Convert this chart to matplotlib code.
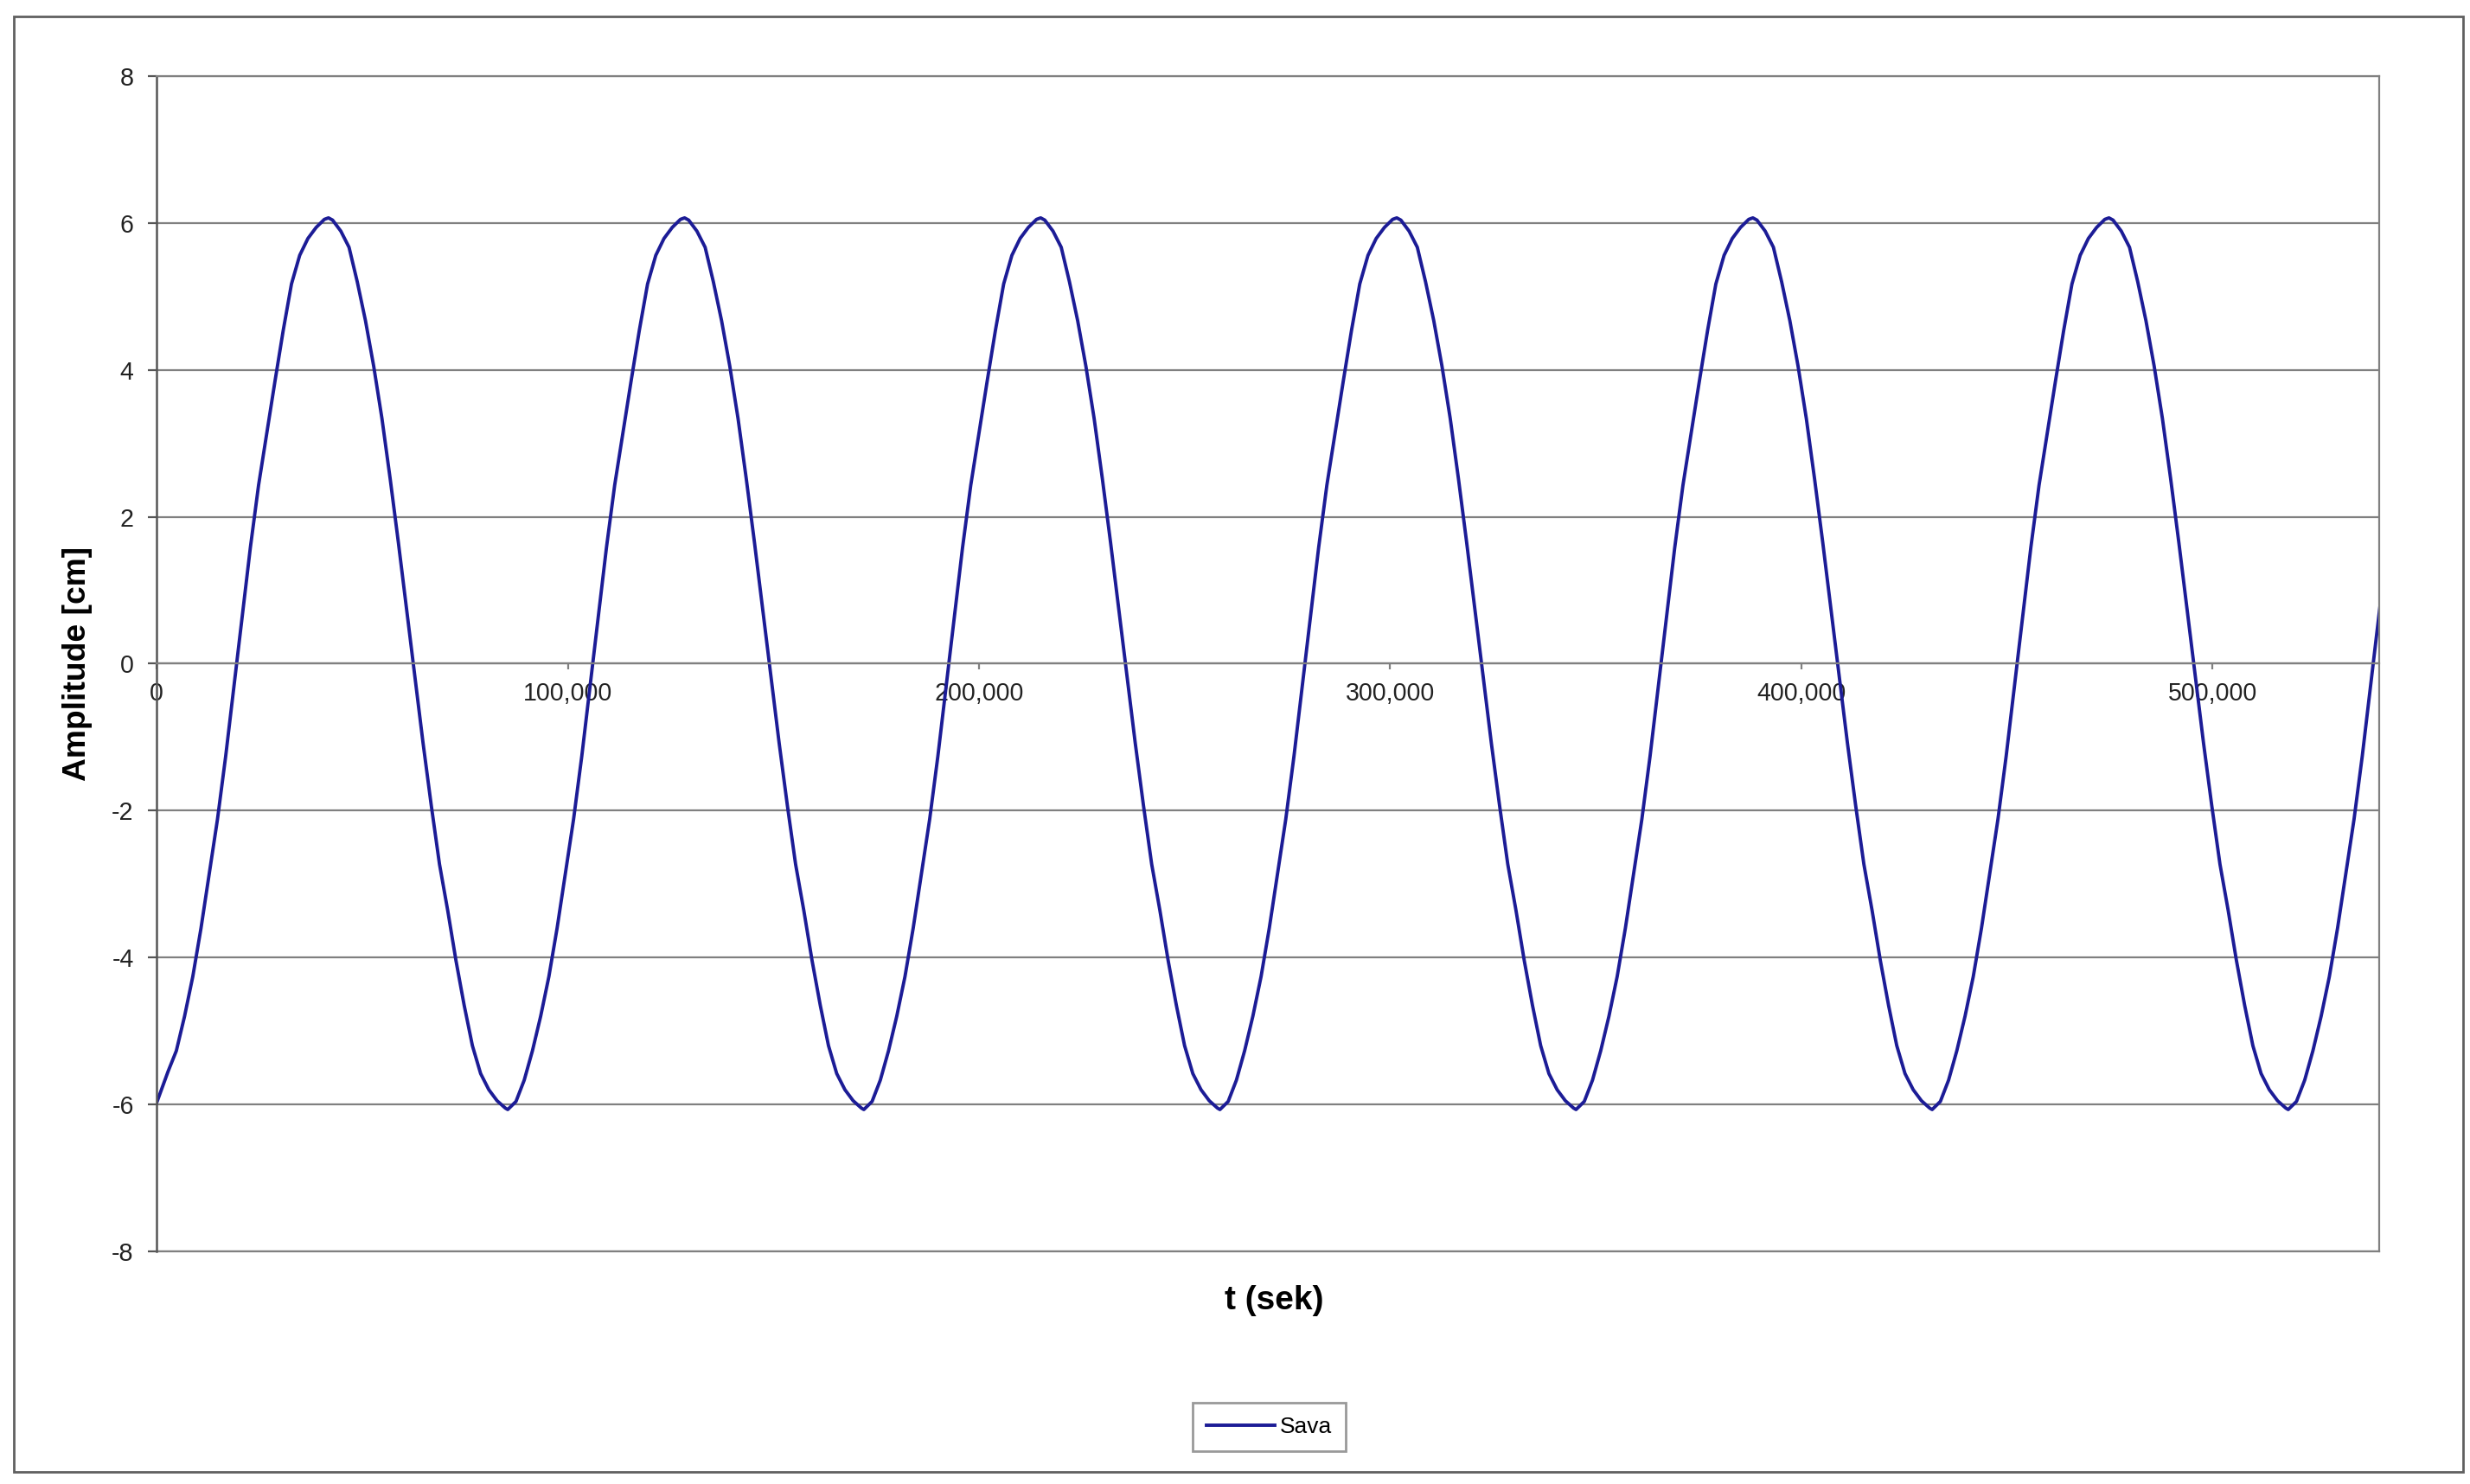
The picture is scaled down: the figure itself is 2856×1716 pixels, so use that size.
import matplotlib.pyplot as plt
from matplotlib.patches import Rectangle
from matplotlib.ticker import FuncFormatter

plt.rcParams["font.family"] = ["Liberation Sans", "DejaVu Sans"]
plt.rcParams["axes.unicode_minus"] = False

# Time samples (s), one row per oscillation
t_sec = [
    0, 2800, 4800, 6800, 8800, 10800, 12800, 14800, 16800, 18800, 20800,
    22800, 24800, 26800, 28800, 30800, 32800, 34800, 36800, 38800, 40800,
    41800, 42800, 44800, 46800, 48800, 50800, 52800, 54800, 56800, 58800,
    60800, 62800, 64800, 66800, 68800, 70800, 72800, 74800, 76800, 78800,
    80800, 82800, 84800,
    85400, 87400, 89400, 91400, 93400, 95400, 97400, 99400, 101400, 103400,
    105400, 107400, 109400, 111400, 113400, 115400, 117400, 119400, 121400,
    123400, 125400, 127400, 128400, 129400, 131400, 133400, 135400, 137400,
    139400, 141400, 143400, 145400, 147400, 149400, 151400, 153400, 155400,
    157400, 159400, 161400, 163400, 165400, 167400, 169400, 171400,
    172000, 174000, 176000, 178000, 180000, 182000, 184000, 186000, 188000,
    190000, 192000, 194000, 196000, 198000, 200000, 202000, 204000, 206000,
    208000, 210000, 212000, 214000, 215000, 216000, 218000, 220000, 222000,
    224000, 226000, 228000, 230000, 232000, 234000, 236000, 238000, 240000,
    242000, 244000, 246000, 248000, 250000, 252000, 254000, 256000, 258000,
    258600, 260600, 262600, 264600, 266600, 268600, 270600, 272600, 274600,
    276600, 278600, 280600, 282600, 284600, 286600, 288600, 290600, 292600,
    294600, 296600, 298600, 300600, 301600, 302600, 304600, 306600, 308600,
    310600, 312600, 314600, 316600, 318600, 320600, 322600, 324600, 326600,
    328600, 330600, 332600, 334600, 336600, 338600, 340600, 342600, 344600,
    345200, 347200, 349200, 351200, 353200, 355200, 357200, 359200, 361200,
    363200, 365200, 367200, 369200, 371200, 373200, 375200, 377200, 379200,
    381200, 383200, 385200, 387200, 388200, 389200, 391200, 393200, 395200,
    397200, 399200, 401200, 403200, 405200, 407200, 409200, 411200, 413200,
    415200, 417200, 419200, 421200, 423200, 425200, 427200, 429200, 431200,
    431800, 433800, 435800, 437800, 439800, 441800, 443800, 445800, 447800,
    449800, 451800, 453800, 455800, 457800, 459800, 461800, 463800, 465800,
    467800, 469800, 471800, 473800, 474800, 475800, 477800, 479800, 481800,
    483800, 485800, 487800, 489800, 491800, 493800, 495800, 497800, 499800,
    501800, 503800, 505800, 507800, 509800, 511800, 513800, 515800, 517800,
    518400, 520400, 522400, 524400, 526400, 528400, 530400, 532400, 534400,
    536400, 538400, 540400, 542400,
]

# Amplitude (cm) at those times
amp_cm = [
    -5.98, -5.55, -5.27, -4.80, -4.26, -3.60, -2.86, -2.12, -1.26, -0.31,
    0.65, 1.58, 2.43, 3.14, 3.85, 4.54, 5.17, 5.56, 5.79, 5.94, 6.05, 6.07,
    6.04, 5.89, 5.67, 5.20, 4.67, 4.05, 3.34, 2.52, 1.65, 0.74, -0.18, -1.08,
    -1.93, -2.73, -3.36, -4.04, -4.65, -5.20, -5.58, -5.80, -5.95, -6.05,
    -6.07, -5.96, -5.67, -5.27, -4.80, -4.26, -3.60, -2.86, -2.12, -1.26,
    -0.31, 0.65, 1.58, 2.43, 3.14, 3.85, 4.54, 5.17, 5.56, 5.79, 5.94, 6.05,
    6.07, 6.04, 5.89, 5.67, 5.20, 4.67, 4.05, 3.34, 2.52, 1.65, 0.74, -0.18,
    -1.08, -1.93, -2.73, -3.36, -4.04, -4.65, -5.20, -5.58, -5.80, -5.95, -6.05,
    -6.07, -5.96, -5.67, -5.27, -4.80, -4.26, -3.60, -2.86, -2.12, -1.26,
    -0.31, 0.65, 1.58, 2.43, 3.14, 3.85, 4.54, 5.17, 5.56, 5.79, 5.94, 6.05,
    6.07, 6.04, 5.89, 5.67, 5.20, 4.67, 4.05, 3.34, 2.52, 1.65, 0.74, -0.18,
    -1.08, -1.93, -2.73, -3.36, -4.04, -4.65, -5.20, -5.58, -5.80, -5.95, -6.05,
    -6.07, -5.96, -5.67, -5.27, -4.80, -4.26, -3.60, -2.86, -2.12, -1.26,
    -0.31, 0.65, 1.58, 2.43, 3.14, 3.85, 4.54, 5.17, 5.56, 5.79, 5.94, 6.05,
    6.07, 6.04, 5.89, 5.67, 5.20, 4.67, 4.05, 3.34, 2.52, 1.65, 0.74, -0.18,
    -1.08, -1.93, -2.73, -3.36, -4.04, -4.65, -5.20, -5.58, -5.80, -5.95, -6.05,
    -6.07, -5.96, -5.67, -5.27, -4.80, -4.26, -3.60, -2.86, -2.12, -1.26,
    -0.31, 0.65, 1.58, 2.43, 3.14, 3.85, 4.54, 5.17, 5.56, 5.79, 5.94, 6.05,
    6.07, 6.04, 5.89, 5.67, 5.20, 4.67, 4.05, 3.34, 2.52, 1.65, 0.74, -0.18,
    -1.08, -1.93, -2.73, -3.36, -4.04, -4.65, -5.20, -5.58, -5.80, -5.95, -6.05,
    -6.07, -5.96, -5.67, -5.27, -4.80, -4.26, -3.60, -2.86, -2.12, -1.26,
    -0.31, 0.65, 1.58, 2.43, 3.14, 3.85, 4.54, 5.17, 5.56, 5.79, 5.94, 6.05,
    6.07, 6.04, 5.89, 5.67, 5.20, 4.67, 4.05, 3.34, 2.52, 1.65, 0.74, -0.18,
    -1.08, -1.93, -2.73, -3.36, -4.04, -4.65, -5.20, -5.58, -5.80, -5.95, -6.05,
    -6.07, -5.96, -5.67, -5.27, -4.80, -4.26, -3.60, -2.86, -2.12, -1.26,
    -0.31, 0.65, 1.58,
]

x_ticks = [0, 100000, 200000, 300000, 400000, 500000]
y_ticks = [-8, -6, -4, -2, 0, 2, 4, 6, 8]
series_name = "Sava"

grid_col = "#808080"
axis_col = "#555555"
line_col = "#1c1c96"

fig = plt.figure(figsize=(14.28, 8.58), dpi=200)
# chart frame
fig.patches.append(Rectangle((0.0056, 0.0082), 0.9916, 0.9807, transform=fig.transFigure,
                             fill=False, edgecolor="#606060", linewidth=1.0))

ax = fig.add_axes([0.0634, 0.1568, 0.8998, 0.7919])
ax.plot(t_sec, amp_cm, color=line_col, linewidth=1.4, label=series_name)

ax.set_xlim(0, 540500)
ax.set_ylim(-8, 8)
ax.set_yticks(y_ticks)
ax.set_xticks(x_ticks)
ax.xaxis.set_major_formatter(FuncFormatter(lambda v, p: f"{v:,.0f}"))
ax.yaxis.grid(True, color=grid_col, linewidth=0.8)
ax.set_axisbelow(True)

for side in ["top", "right"]:
    ax.spines[side].set_color(grid_col)
    ax.spines[side].set_linewidth(0.8)
ax.spines["left"].set_color(axis_col)
ax.spines["left"].set_linewidth(0.9)
ax.spines["bottom"].set_position(("data", 0))
ax.spines["bottom"].set_color(grid_col)
ax.spines["bottom"].set_linewidth(0.8)
ax.axhline(-8, color=grid_col, linewidth=0.8, clip_on=False)

ax.tick_params(axis="y", direction="out", length=3.5, width=0.8, color=axis_col,
               labelsize=10.3, pad=6, labelcolor="#222222")
ax.tick_params(axis="x", direction="out", length=2.5, width=0.8, color=grid_col,
               labelsize=10.3, pad=5, labelcolor="#222222")

ax.set_ylabel("Amplitude [cm]", fontsize=13.4, fontweight="bold", labelpad=8)
fig.text(0.5158, 0.1235, "t (sek)", fontsize=14, fontweight="bold", ha="center", va="center")

leg = ax.legend(loc="center", bbox_to_anchor=(0.5138, 0.0385), bbox_transform=fig.transFigure,
                fontsize=9.5, frameon=True, fancybox=False, handlelength=3.0, handletextpad=0.2,
                borderpad=0.6)
leg.get_frame().set_edgecolor("#808080")
leg.get_frame().set_linewidth(1.0)

fig.savefig("out.png", dpi=200)
